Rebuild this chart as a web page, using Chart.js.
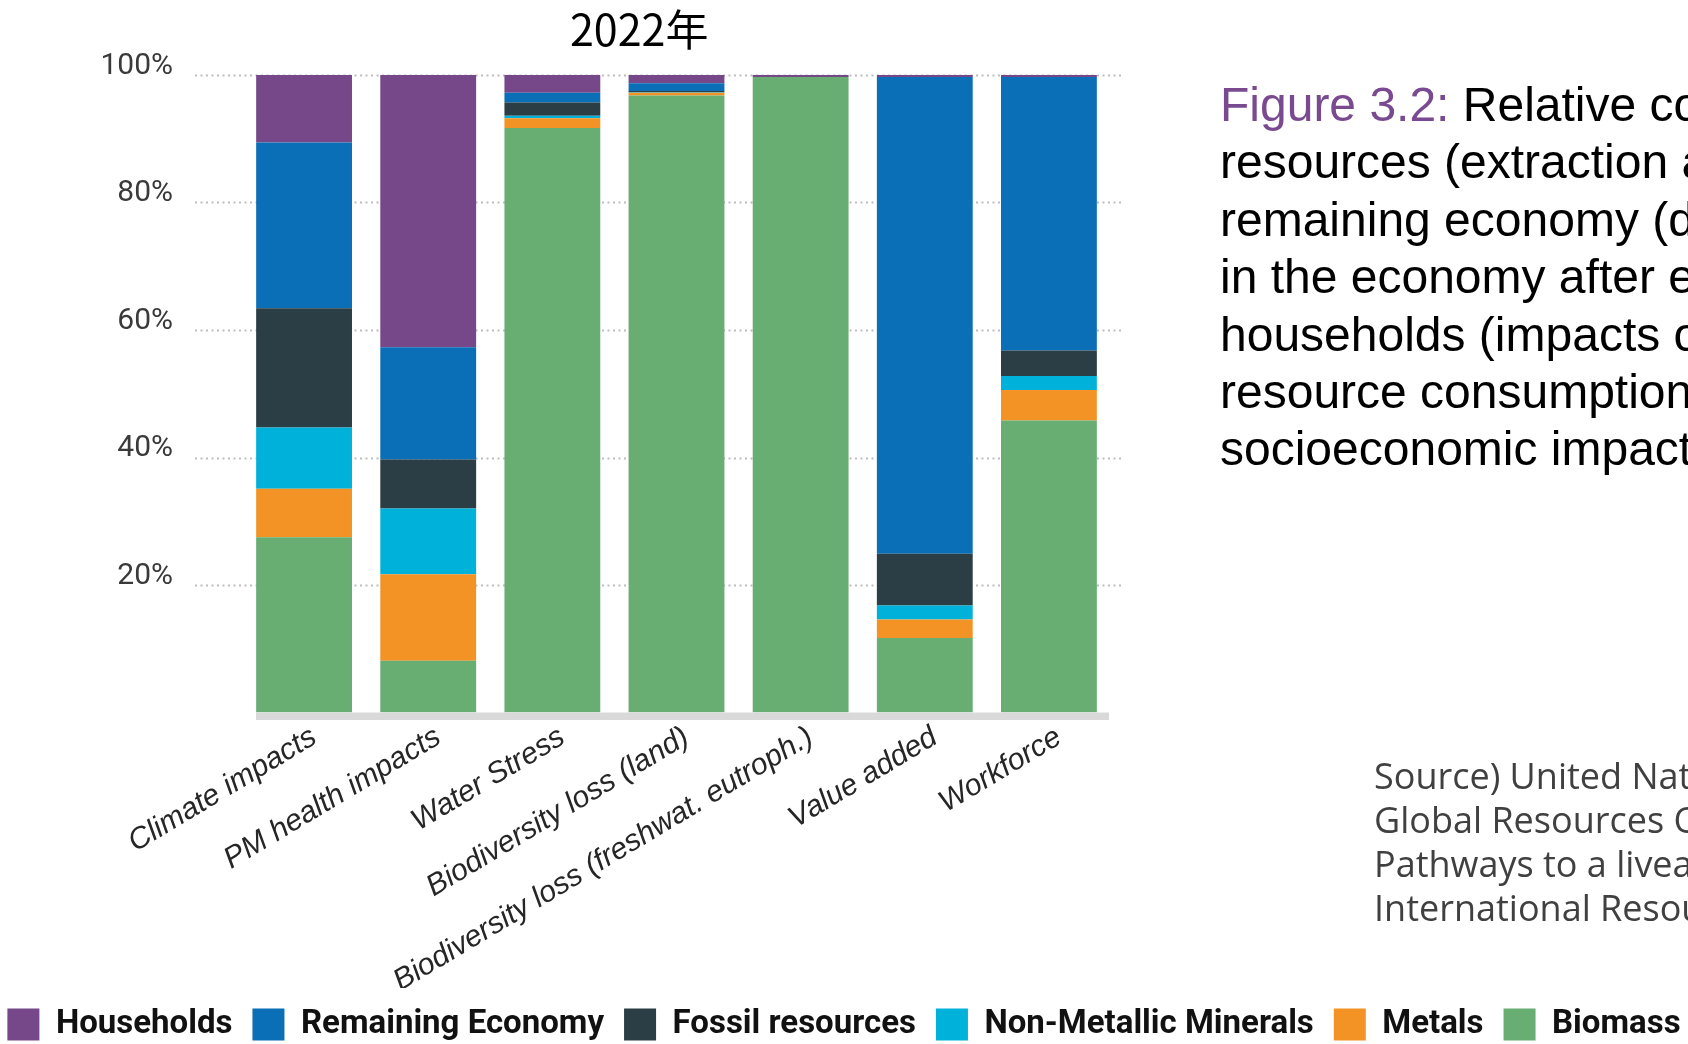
<!DOCTYPE html>
<html>
<head>
<meta charset="utf-8">
<title>2022年</title>
<script src="https://cdn.jsdelivr.net/npm/chart.js@4.4.1/dist/chart.umd.min.js"></script>
<style>
    html, body {
        margin: 0;
        padding: 0;
        background: #ffffff;
        overflow: hidden;
    }
    .page {
        position: relative;
        width: 1688px;
        height: 1044px;
        overflow: hidden;
    }
    /* canvas is a bit wider than the page so the legend fits on one row */
    .chart-box {
        position: absolute;
        left: -40px;
        top: 0;
        width: 1768px;
        height: 1051px;
    }
    .chart-title {
        position: absolute;
        left: 570px;
        top: 6px;
        font-family: "Noto Sans CJK JP", "Noto Sans", sans-serif;
        font-size: 43px;
        line-height: 43px;
        color: #000;
        white-space: nowrap;
    }
    .caption {
        position: absolute;
        left: 1220px;
        top: 76px;
        font-family: "Liberation Sans", Arial, sans-serif;
        font-size: 48px;
        line-height: 57.4px;
        color: #000;
        white-space: nowrap;
    }
    .caption .fig {
        color: #7a4a91;
    }
    .source {
        position: absolute;
        left: 1374px;
        top: 754px;
        font-family: "Open Sans", "Noto Sans", sans-serif;
        font-size: 36px;
        line-height: 44px;
        color: #404040;
        white-space: nowrap;
    }
</style>
</head>
<body>
<div class="page">
    <div class="chart-box"><canvas id="impactChart"></canvas></div>
    <div class="chart-title">2022年</div>
    <div class="caption">
        <div><span class="fig">Figure 3.2:</span> Relative contribution</div>
        <div>resources (extraction and</div>
        <div>remaining economy (downstream</div>
        <div>in the economy after extraction</div>
        <div>households (impacts of</div>
        <div>resource consumption</div>
        <div>socioeconomic impacts</div>
    </div>
    <div class="source">
        <div>Source) United Nations Environment Programme</div>
        <div>Global Resources Outlook 2024</div>
        <div>Pathways to a liveable planet</div>
        <div>International Resource Panel</div>
    </div>
</div>

<script>
// Impact categories (x axis)
const categories = [
    'Climate impacts',
    'PM health impacts',
    'Water Stress',
    'Biodiversity loss (land)',
    'Biodiversity loss (freshwat. eutroph.)',
    'Value added',
    'Workforce'
];

// Share of each impact, in percent (stacked from the bottom up)
const biomass     = [27.5,  8.1, 91.7, 96.8, 99.7, 11.7, 45.8];
const metals      = [ 7.6, 13.6,  1.5,  0.4,  0.0,  2.9,  4.8];
const nonMetallic = [ 9.6, 10.3,  0.4,  0.1,  0.0,  2.2,  2.2];
const fossil      = [18.7,  7.7,  2.1,  0.2,  0.0,  8.1,  4.0];
const remaining   = [26.0, 17.6,  1.5,  1.2,  0.0, 74.8, 42.9];
const households  = [10.6, 42.7,  2.8,  1.3,  0.3,  0.3,  0.3];

const yTicks = [0, 20, 40, 60, 80, 100];

const seriesColors = {
    biomass: '#68ad72',
    metals: '#f39325',
    nonMetallic: '#00b1da',
    fossil: '#2b3d45',
    remaining: '#0b6fb7',
    households: '#76488a'
};

function makeSet(label, data, color) {
    return {
        label: label,
        data: data,
        backgroundColor: color,
        borderColor: color,
        borderWidth: 0
    };
}

// dotted grid lines (running past the bars) and the grey base strip
const frameLines = {
    id: 'frameLines',
    beforeDatasetsDraw(chart) {
        const { ctx, chartArea } = chart;
        const y = chart.scales.y;
        ctx.save();
        ctx.strokeStyle = '#bdbdbd';
        ctx.lineWidth = 2;
        ctx.setLineDash([2, 3.5]);
        y.ticks.forEach((t, i) => {
            if (t.value === 0) return;
            const py = Math.round(y.getPixelForTick(i)) + 0.5;
            ctx.beginPath();
            ctx.moveTo(chartArea.left - 47, py);
            ctx.lineTo(chartArea.right + 11, py);
            ctx.stroke();
        });
        ctx.restore();
    },
    afterDatasetsDraw(chart) {
        const { ctx, chartArea } = chart;
        ctx.save();
        ctx.fillStyle = '#d9d9d9';
        ctx.fillRect(chartArea.left + 14, chartArea.bottom, chartArea.width - 16, 7.5);
        ctx.restore();
    }
};

document.addEventListener('DOMContentLoaded', () => {
    new Chart(document.getElementById('impactChart'), {
        type: 'bar',
        data: {
            labels: categories,
            datasets: [
                makeSet('Biomass', biomass, seriesColors.biomass),
                makeSet('Metals', metals, seriesColors.metals),
                makeSet('Non-Metallic Minerals', nonMetallic, seriesColors.nonMetallic),
                makeSet('Fossil resources', fossil, seriesColors.fossil),
                makeSet('Remaining Economy', remaining, seriesColors.remaining),
                makeSet('Households', households, seriesColors.households)
            ]
        },
        options: {
            responsive: true,
            maintainAspectRatio: false,
            animation: false,
            layout: {
                padding: { top: 75, left: 0, right: 0, bottom: 0 }
            },
            datasets: {
                bar: {
                    categoryPercentage: 1,
                    barPercentage: 0.772
                }
            },
            scales: {
                x: {
                    stacked: true,
                    grid: { display: false, drawTicks: false },
                    border: { display: false },
                    ticks: {
                        autoSkip: false,
                        minRotation: 31,
                        maxRotation: 31,
                        padding: 7,
                        labelOffset: 10,
                        color: '#262626',
                        font: { family: "'Liberation Sans', Arial, sans-serif", size: 30, style: 'italic' }
                    },
                    afterFit(scale) {
                        scale.height = 275.5;
                    }
                },
                y: {
                    stacked: true,
                    min: 0,
                    max: 100,
                    afterBuildTicks(scale) {
                        scale.ticks = yTicks.map(v => ({ value: v }));
                    },
                    grid: { display: false, drawTicks: false },
                    border: { display: false },
                    ticks: {
                        padding: 69,
                        labelOffset: -9,
                        color: '#3a3a3a',
                        font: { family: 'Roboto, sans-serif', size: 30 },
                        callback: v => (v === 0 ? '' : v + '%')
                    },
                    afterFit(scale) {
                        scale.width = 282;
                        // keep the label padding from pushing the plot down
                        scale.paddingTop = 0;
                        scale.paddingBottom = 0;
                    }
                },
                side: {
                    type: 'linear',
                    position: 'right',
                    display: true,
                    grid: { display: false, drawTicks: false },
                    border: { display: false },
                    ticks: { display: false },
                    afterFit(scale) {
                        scale.width = 617;
                    }
                }
            },
            plugins: {
                tooltip: { enabled: false },
                legend: {
                    position: 'bottom',
                    reverse: true,
                    labels: {
                        boxWidth: 32,
                        boxHeight: 32,
                        padding: 20,
                        color: '#111111',
                        font: { family: 'Roboto, sans-serif', size: 33, weight: 'bold' }
                    }
                }
            }
        },
        plugins: [frameLines]
    });
});
</script>
</body>
</html>
